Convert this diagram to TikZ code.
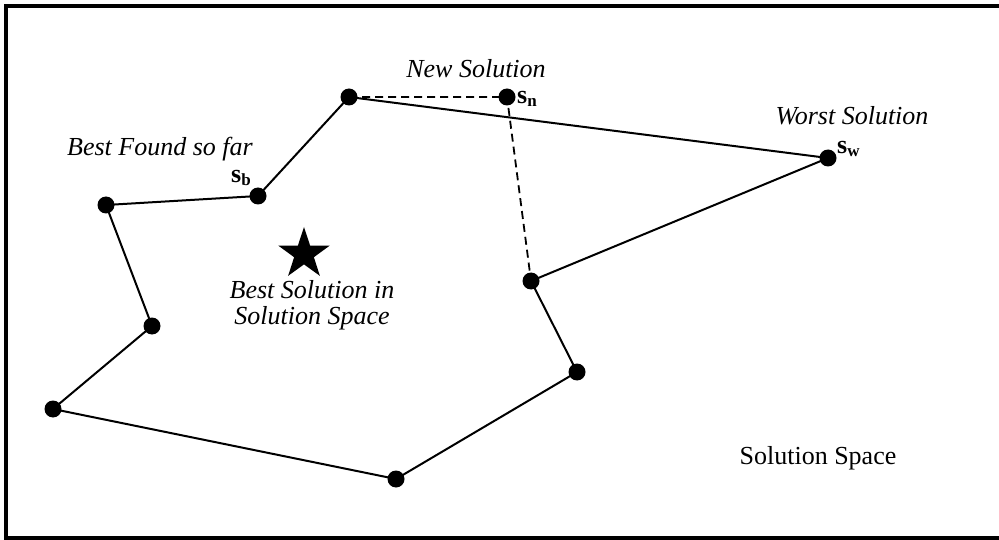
\documentclass[tikz,border=0pt]{standalone}
\usepackage{fontspec}
\setmainfont{Liberation Serif}
\usetikzlibrary{shapes.geometric}
\begin{document}
\begin{tikzpicture}[x=1pt,y=-1pt,
  pt/.style={circle,fill=black,inner sep=0pt,minimum size=17pt},
  edge/.style={line width=2pt},
  dedge/.style={line width=1.8pt,dash pattern=on 8pt off 5pt},
  lab/.style={font=\fontsize{26}{25.5}\selectfont\itshape,inner sep=0pt,align=center},
  sub/.style={font=\fontsize{26}{29}\selectfont\bfseries,inner sep=0pt}]
\useasboundingbox (0,0) rectangle (999,540);
\draw[line width=4pt] (6,6) rectangle (1010,538);
\node[pt] (p1) at (349,97) {};
\node[pt] (sn) at (507,97) {};
\node[pt] (sw) at (828,158) {};
\node[pt] (pm) at (531,281) {};
\node[pt] (plr) at (577,372) {};
\node[pt] (pb) at (396,479) {};
\node[pt] (plb) at (53,409) {};
\node[pt] (plm) at (152,326) {};
\node[pt] (plt) at (106,205) {};
\node[pt] (sb) at (258,196) {};
\draw[edge] (sb.center) -- (p1.center) -- (sw.center) -- (pm.center) -- (plr.center) -- (pb.center) -- (plb.center) -- (plm.center) -- (plt.center) -- (sb.center);
\draw[dedge] (p1.center) -- (sn.center) -- (pm.center);
\node[lab] (ln) at (476,69) {New Solution};
\node[lab] (lb) at (160,149) {Best Found so far};
\node[lab] (lw) at (852,116) {Worst Solution};
\node[sub,anchor=west] (tn) at (517,99) {s\raisebox{-0.25ex}{\fontsize{17}{17}\selectfont n}};
\node[sub,anchor=west] (tb) at (231,178) {s\raisebox{-0.25ex}{\fontsize{17}{17}\selectfont b}};
\node[sub,anchor=west] (tw) at (837,149) {s\raisebox{-0.25ex}{\fontsize{17}{17}\selectfont w}};
\node[star,star points=5,star point ratio=2.6,fill=black,minimum size=54pt,inner sep=0pt] (st) at (304,254) {};
\node[lab] (lbs) at (312,305) {Best Solution in\\Solution Space};
\node[font=\fontsize{26}{29}\selectfont,inner sep=0pt] (ls) at (818,458) {Solution Space};
\end{tikzpicture}
\end{document}
